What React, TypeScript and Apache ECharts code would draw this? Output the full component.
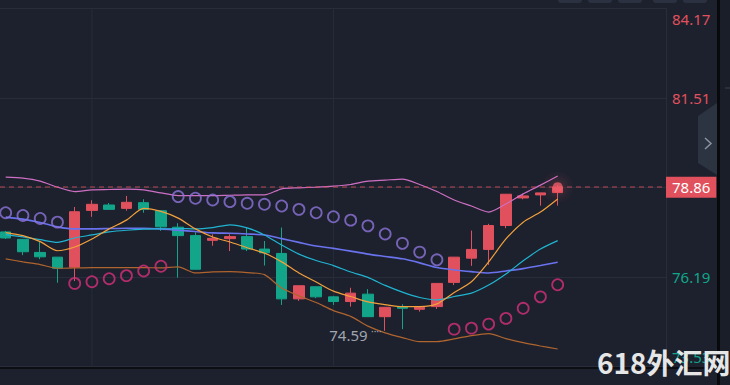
import React, { useEffect, useRef } from "react";
import * as echarts from "echarts";

// ---- data ----
const openPrices = [77.53, 77.31, 76.92, 76.78, 76.48, 78.17, 78.33, 78.23, 78.40, 78.16, 77.67, 77.42, 77.28, 77.33, 77.39, 77.02, 76.89, 75.54, 75.90, 75.60, 75.46, 75.68, 75.01, 75.30, 75.23, 75.31, 76.03, 76.75, 77.01, 77.72, 78.54, 78.63, 78.70];
const closePrices = [77.35, 76.94, 76.79, 76.45, 78.13, 78.35, 78.20, 78.41, 78.20, 77.68, 77.42, 76.42, 77.34, 77.39, 77.02, 76.91, 75.54, 75.93, 75.60, 75.46, 75.71, 75.01, 75.29, 75.26, 75.29, 76.00, 76.78, 77.01, 77.72, 78.65, 78.60, 78.69, 78.86];
const lowPrices = [77.32, 76.84, 76.72, 76.02, 76.07, 77.98, 78.20, 78.16, 78.10, 77.56, 76.17, 76.42, 77.12, 76.96, 76.96, 76.53, 75.36, 75.48, 75.56, 75.36, 75.31, 75.01, 74.59, 74.64, 75.16, 75.24, 75.95, 76.52, 76.55, 77.64, 78.50, 78.31, 78.31];
const highPrices = [77.56, 77.32, 77.24, 76.78, 78.27, 78.47, 78.39, 78.60, 78.50, 78.16, 77.79, 77.52, 77.46, 77.46, 77.67, 77.26, 77.66, 75.93, 75.90, 75.63, 75.87, 75.83, 75.29, 75.38, 75.30, 76.00, 76.78, 77.57, 77.77, 78.65, 78.66, 78.69, 78.92];

const ma5 = [77.51, 77.42, 77.24, 76.97, 77.08, 77.32, 77.62, 77.88, 78.23, 78.14, 77.94, 77.62, 77.38, 77.23, 77.06, 76.90, 76.64, 76.31, 76.04, 75.77, 75.61, 75.45, 75.37, 75.31, 75.31, 75.39, 75.73, 76.05, 76.64, 77.32, 77.82, 78.12, 78.51];
const ma10 = [77.45, 77.38, 77.30, 77.22, 77.35, 77.44, 77.53, 77.58, 77.61, 77.62, 77.63, 77.62, 77.66, 77.74, 77.65, 77.44, 77.14, 76.87, 76.68, 76.53, 76.34, 76.18, 75.94, 75.74, 75.58, 75.51, 75.61, 75.71, 75.95, 76.28, 76.67, 77.02, 77.27];
const ma20 = [77.97, 77.91, 77.81, 77.68, 77.62, 77.62, 77.63, 77.64, 77.64, 77.62, 77.58, 77.54, 77.50, 77.49, 77.47, 77.44, 77.33, 77.22, 77.11, 77.04, 76.96, 76.87, 76.80, 76.73, 76.61, 76.47, 76.40, 76.35, 76.31, 76.37, 76.44, 76.53, 76.63];
const bollUpper = [79.16, 79.13, 79.04, 78.86, 78.73, 78.78, 78.79, 78.80, 78.78, 78.69, 78.61, 78.61, 78.61, 78.62, 78.63, 78.63, 78.81, 78.84, 78.86, 78.89, 78.94, 79.04, 79.07, 79.10, 78.94, 78.73, 78.48, 78.30, 78.12, 78.36, 78.66, 78.92, 79.19];
const bollLower = [76.73, 76.64, 76.56, 76.45, 76.46, 76.47, 76.47, 76.47, 76.47, 76.46, 76.49, 76.31, 76.34, 76.35, 76.32, 76.26, 75.86, 75.63, 75.43, 75.19, 75.02, 74.73, 74.53, 74.39, 74.27, 74.27, 74.35, 74.45, 74.51, 74.36, 74.24, 74.14, 74.05];
const sar = [78.10, 78.02, 77.93, 77.82, 76.00, 76.05, 76.14, 76.23, 76.37, 76.51, 78.58, 78.53, 78.48, 78.43, 78.38, 78.35, 78.30, 78.20, 78.10, 77.98, 77.88, 77.71, 77.47, 77.19, 76.93, 76.70, 74.64, 74.67, 74.79, 74.96, 75.26, 75.60, 75.96];

const yMin = 73.53;
const yMax = 84.17;
const yStep = 2.66;
const lastPrice = 78.86;
const vGridAt = [5, 19];

// ---- styles ----
const BG = "#1c212d";
const GRID = "#272d3a";
const UP = "#e0505d";
const DOWN = "#12a58a";
const FONT = "Noto Sans";

export default function App() {
  const ref = useRef<HTMLDivElement>(null);

  useEffect(() => {
    if (!ref.current) return;
    const chart = echarts.init(ref.current, null, { renderer: "svg" });

    const idx = openPrices.map((_, i) => i);
    const candles = idx.map((i) => [i, openPrices[i], closePrices[i], lowPrices[i], highPrices[i]]);
    const toLine = (arr: number[]) => arr.map((v, i) => [i, v]);
    const sarAbove = idx.filter((i) => sar[i] > highPrices[i]).map((i) => [i, sar[i]]);
    const sarBelow = idx.filter((i) => sar[i] <= highPrices[i]).map((i) => [i, sar[i]]);
    let lowIdx = 0;
    lowPrices.forEach((v, i) => { if (v < lowPrices[lowIdx]) lowIdx = i; });
    const lowest = lowPrices[lowIdx];
    const lastIdx = idx.length - 1;

    const lineSeries = (data: number[], color: string, width: number) => ({
      type: "line",
      data: toLine(data),
      showSymbol: false,
      symbol: "none",
      smooth: 0.25,
      lineStyle: { color, width },
      silent: true,
    });

    const vGridSeries = vGridAt.map((x) => ({
      type: "line",
      data: [[x, yMin], [x, yMax]],
      showSymbol: false,
      symbol: "none",
      silent: true,
      z: 1,
      lineStyle: { color: GRID, width: 1 },
    }));

    const sarSeries = (data: number[][], color: string) => ({
      type: "scatter",
      data,
      symbol: "circle",
      symbolSize: 11,
      itemStyle: { color: "rgba(0,0,0,0)", borderColor: color, borderWidth: 1.8 },
      silent: true,
      z: 3,
    });

    const buttons = [558, 588, 618, 653, 683].map((x) => ({
      type: "rect",
      shape: { x, y: -8, width: 24, height: 11, r: 3 },
      style: { fill: "#2b3140" },
      z: 10,
    }));

    chart.setOption({
      animation: false,
      backgroundColor: BG,
      grid: { left: 0, right: 64, top: 8.5, bottom: 18.5, show: false },
      xAxis: {
        type: "value",
        min: -0.33,
        max: 38.28,
        axisLine: { show: false, onZero: false },
        axisTick: { show: false },
        axisLabel: { show: false },
        splitLine: { show: false },
      },
      yAxis: {
        type: "value",
        position: "right",
        min: yMin,
        max: yMax,
        interval: yStep,
        axisLine: { show: true, onZero: false, lineStyle: { color: GRID, width: 1 } },
        axisTick: { show: false },
        splitLine: { lineStyle: { color: GRID, width: 1 } },
        axisLabel: {
          margin: 6,
          fontSize: 15,
          fontFamily: FONT,
          formatter: (v: number) => {
            if (Math.abs(v - lastPrice) < 0.05) return "";
            const s = v.toFixed(2);
            const up = v > lastPrice;
            if (v >= yMax - 1e-6) return `{top|${s}}`;
            if (v <= yMin + 1e-6) return `{bot|${s}}`;
            return up ? `{r|${s}}` : `{g|${s}}`;
          },
          rich: {
            top: { color: UP, fontSize: 15, fontFamily: FONT, padding: [21, 0, 0, 0] },
            bot: { color: DOWN, fontSize: 15, fontFamily: FONT, padding: [0, 0, 19, 0] },
            r: { color: UP, fontSize: 15, fontFamily: FONT },
            g: { color: DOWN, fontSize: 15, fontFamily: FONT },
          },
        },
      },
      series: [
        ...vGridSeries,
        {
          type: "candlestick",
          data: candles,
          barWidth: 11,
          silent: true,
          z: 2,
          itemStyle: {
            color: UP,
            color0: DOWN,
            borderColor: UP,
            borderColor0: DOWN,
            borderWidth: 1,
          },
          markLine: {
            silent: true,
            symbol: ["none", "none"],
            data: [{ yAxis: lastPrice }],
            lineStyle: { color: "rgba(224,80,93,0.55)", type: [5, 4], width: 1.5 },
            label: {
              show: true,
              position: "end",
              distance: 0,
              formatter: lastPrice.toFixed(2),
              color: "#ffffff",
              backgroundColor: UP,
              padding: [3, 6, 3, 6],
              fontSize: 15,
              fontFamily: FONT,
            },
          },
          markPoint: {
            silent: true,
            symbol: "circle",
            symbolSize: 1,
            itemStyle: { color: "rgba(0,0,0,0)" },
            data: [{ coord: [lowIdx, lowest] }],
            label: {
              show: true,
              position: "left",
              distance: 3,
              offset: [0, 4],
              formatter: `{a|${lowest.toFixed(2)}} {b|····}`,
              rich: {
                a: { color: "#a0a5ae", fontSize: 15, fontFamily: FONT },
                b: { color: "#a0a5ae", fontSize: 10, fontFamily: FONT, padding: [0, 0, 8, 0] },
              },
            },
          },
        },
        lineSeries(bollUpper, "#cf6fc4", 1.2),
        lineSeries(bollLower, "#b0642e", 1.2),
        lineSeries(ma20, "#6a72ee", 1.6),
        lineSeries(ma10, "#20b4d2", 1.2),
        lineSeries(ma5, "#f3a03c", 1.2),
        sarSeries(sarAbove, "#8d74da"),
        sarSeries(sarBelow, "#d6307a"),
        {
          type: "scatter",
          data: [[lastIdx, closePrices[lastIdx]]],
          symbol: "circle",
          symbolSize: 10,
          silent: true,
          z: 6,
          itemStyle: { color: "#ef5a66", shadowBlur: 14, shadowColor: "rgba(239,90,102,0.95)" },
        },
      ],
      graphic: [
        { type: "rect", shape: { x: 717, y: 0, width: 3, height: 385 }, style: { fill: "#08090c" }, z: 10 },
        { type: "rect", shape: { x: 720, y: 0, width: 10, height: 385 }, style: { fill: "#1a1e29" }, z: 10 },
        { type: "line", shape: { x1: 725, y1: 88, x2: 730, y2: 88 }, style: { stroke: "#3a4050", lineWidth: 1 }, z: 11 },
        { type: "line", shape: { x1: 0, y1: 368, x2: 717, y2: 368 }, style: { stroke: "#08090c", lineWidth: 1.5 }, z: 10 },
        ...buttons,
        {
          type: "polygon",
          shape: { points: [[698, 116], [717, 103], [717, 175], [698, 163]] },
          style: { fill: "#2c3341" },
          z: 10,
        },
        {
          type: "polyline",
          shape: { points: [[705, 138], [711, 143.5], [705, 149]] },
          style: { stroke: "#8b93a2", lineWidth: 1.5, fill: null },
          z: 11,
        },
        {
          type: "text",
          x: 597,
          y: 362,
          style: {
            text: "618外汇网",
            verticalAlign: "middle",
            font: 'bold 28px "Noto Sans CJK SC"',
            fill: "#e6e6e6",
          },
          z: 20,
        },
      ],
    });

    return () => chart.dispose();
  }, []);

  return (
    <div
      ref={ref}
      style={{ position: "fixed", left: 0, top: 0, width: 730, height: 385 }}
    />
  );
}
